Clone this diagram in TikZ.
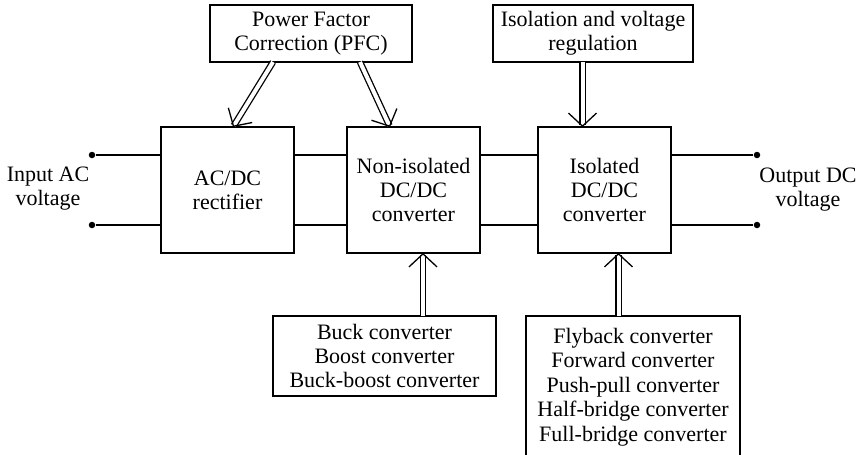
\documentclass[tikz,border=0pt]{standalone}
\usepackage{fontspec}
\setmainfont{Liberation Serif}
\usetikzlibrary{positioning,arrows.meta}

\begin{document}
\begin{tikzpicture}[
    x=1pt, y=-1pt,
    line width=1.3pt,
    font=\fontsize{22}{24}\selectfont,
    block/.style={draw, align=center, inner sep=0pt, outer sep=0pt, minimum width=133pt, minimum height=126pt},
    infobox/.style={draw, align=center, inner sep=0pt, outer sep=0pt, minimum height=57pt},
    listbox/.style={draw, align=center, inner sep=0pt, outer sep=0pt},
    dblarrow/.style={double, double distance=4pt, -{Straight Barb[length=13pt, width=28pt]}},
    terminal/.style={fill, circle, inner sep=0pt, minimum size=6.5pt}
]
\useasboundingbox (0,0) rectangle (863,455);

\node[block] (rect) at (227.5,190) {AC/DC\\rectifier};
\node[block, right=53pt of rect] (nonisol) {Non-isolated\\DC/DC\\converter};
\node[block, right=58pt of nonisol] (isol) {Isolated\\DC/DC\\converter};

\node[infobox, minimum width=202pt] (pfc) at (311,33.5) {Power Factor\\Correction (PFC)};
\node[infobox, minimum width=200pt] (isoreg) at (593,33.5) {Isolation and voltage\\regulation};

\node[listbox, minimum width=223pt, minimum height=80pt] (buck) at (384.5,356)
    {Buck converter\\Boost converter\\Buck-boost converter};
\node[listbox, minimum width=214pt, minimum height=142pt, font=\fontsize{22}{24.5}\selectfont] (fly) at (633,387)
    {Flyback converter\\Forward converter\\Push-pull converter\\Half-bridge converter\\Full-bridge converter};

% terminals
\node[terminal] (inA) at (92,155) {};
\node[terminal] (inB) at (92,225) {};
\node[terminal] (outA) at (757,155) {};
\node[terminal] (outB) at (757,225) {};
\node[align=center] (inlbl) at (48,189) {Input AC\\voltage};
\node[align=center] (outlbl) at (808,190) {Output DC\\voltage};

% wires
\draw (inA) -- (inA -| rect.west);
\draw (inB) -- (inB -| rect.west);
\draw (rect.east |- inA) -- (nonisol.west |- inA);
\draw (rect.east |- inB) -- (nonisol.west |- inB);
\draw (nonisol.east |- inA) -- (isol.west |- inA);
\draw (nonisol.east |- inB) -- (isol.west |- inB);
\draw (isol.east |- outA) -- (outA);
\draw (isol.east |- outB) -- (outB);

% double arrows
\draw[dblarrow] ([xshift=-38pt]pfc.south) -- ([xshift=5.5pt]rect.north);
\draw[dblarrow] ([xshift=49pt]pfc.south) -- ([xshift=-23.5pt]nonisol.north);
\draw[dblarrow] ([xshift=-22pt]isol.north |- isoreg.south) -- ([xshift=-22pt]isol.north);
\draw[dblarrow] ([xshift=9.5pt]nonisol.south |- buck.north) -- ([xshift=9.5pt]nonisol.south);
\draw[dblarrow] ([xshift=14pt]isol.south |- fly.north) -- ([xshift=14pt]isol.south);
\end{tikzpicture}
\end{document}
